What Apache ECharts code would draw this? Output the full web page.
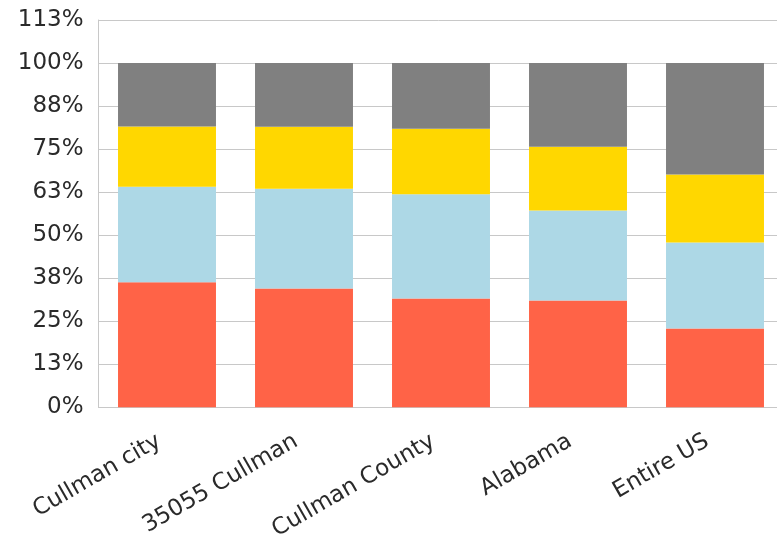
<!DOCTYPE html>
<html>
<head>
<meta charset="utf-8">
<script src="https://cdn.jsdelivr.net/npm/echarts@6/dist/echarts.min.js"></script>
<style>
html,body{margin:0;padding:0;background:#fff;}
#chart{width:777px;height:537px;}
</style>
</head>
<body>
<div id="chart"></div>
<script>
const categories = ['Cullman city', '35055 Cullman', 'Cullman County', 'Alabama', 'Entire US'];
const seriesRed = [36.3, 34.5, 31.6, 31.0, 22.9];
const seriesBlue = [27.8, 29.0, 30.3, 26.2, 25.0];
const seriesYellow = [17.5, 18.0, 19.0, 18.5, 19.7];
const seriesGray = [18.4, 18.5, 19.1, 24.3, 32.4];
const yTickLabels = ['0%', '13%', '25%', '38%', '50%', '63%', '75%', '88%', '100%', '113%'];

const font = 'DejaVu Sans';
const chart = echarts.init(document.getElementById('chart'), null, {renderer: 'canvas'});
function bar(name, data, color) {
  return {
    name: name, type: 'bar', stack: 'total', data: data,
    barCategoryGap: '28.5%',
    itemStyle: {color: color},
    emphasis: {disabled: true}
  };
}
chart.setOption({
  animation: false,
  grid: {left: 98.5, width: 685, top: 20, height: 387.3, containLabel: false, outerBoundsMode: 'none'},
  xAxis: {
    type: 'category',
    data: categories,
    axisLine: {lineStyle: {color: '#c8c8c8', width: 1}},
    axisTick: {show: false},
    axisLabel: {
      rotate: 30, margin: 28, interval: 0, padding: [0, 9, 0, 0],
      fontFamily: font, fontSize: 23, color: '#2a2a2a'
    }
  },
  yAxis: {
    type: 'value', min: 0, max: 112.5, interval: 12.5,
    axisLine: {show: true, lineStyle: {color: '#c8c8c8', width: 1}},
    axisTick: {show: false},
    splitLine: {lineStyle: {color: '#c8c8c8', width: 1}},
    axisLabel: {
      margin: 15, fontFamily: font, fontSize: 23, color: '#2a2a2a',
      formatter: function (v) { return yTickLabels[Math.round(v / 12.5)]; }
    }
  },
  series: [
    bar('Red', seriesRed, '#FF6347'),
    bar('Blue', seriesBlue, '#ADD8E6'),
    bar('Yellow', seriesYellow, '#FFD700'),
    bar('Gray', seriesGray, '#808080')
  ]
});
</script>
</body>
</html>
